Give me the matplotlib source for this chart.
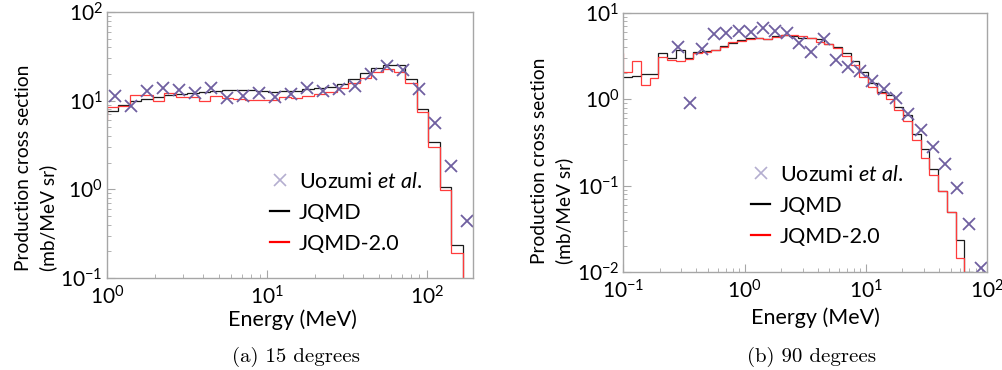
import matplotlib
matplotlib.use("Agg")
import matplotlib.pyplot as plt
from matplotlib.lines import Line2D
from matplotlib.ticker import LogLocator, FuncFormatter, NullFormatter

plt.rcParams['font.family'] = ['Lato', 'DejaVu Sans']
plt.rcParams['mathtext.fontset'] = 'custom'
plt.rcParams['mathtext.rm'] = 'Lato'
plt.rcParams['mathtext.it'] = 'Lato:italic'

# ---------------- data: (a) 15 degrees ----------------
edges_a = [0.95, 1.0, 1.177, 1.388, 1.639, 1.933, 2.281, 2.692, 3.177, 3.748, 4.422,
           5.219, 6.157, 7.266, 8.574, 10.12, 11.94, 14.09, 16.62, 19.61, 23.14,
           27.31, 32.23, 38.03, 44.87, 52.94, 62.47, 73.72, 86.98, 102.7, 121.1,
           142.9, 168.7, 199.1]
jqmd_a = [7.0, 7.7, 8.9, 9.9, 10.4, 11.1, 11.6, 12.0, 12.3, 12.5, 12.9, 13.2, 13.1,
          13.2, 13.0, 12.6, 12.9, 13.0, 13.4, 13.8, 14.4, 15.5, 17.5, 20.5, 23.5,
          25.5, 25.0, 17.4, 8.0, 3.45, 1.06, 0.236, 0.02]
jqmd2_a = [6.0, 8.4, 8.7, 11.6, 11.6, 10.0, 12.1, 10.9, 10.9, 9.8, 11.3, 10.8, 10.5,
           10.3, 10.3, 10.1, 11.0, 10.8, 11.2, 11.9, 12.5, 14.0, 15.7, 18.0, 21.2,
           22.6, 21.2, 15.7, 7.5, 3.0, 0.98, 0.19, 0.02]
uoz_e_a = [1.12, 1.41, 1.78, 2.24, 2.82, 3.55, 4.47, 5.62, 7.08, 8.91, 11.2, 14.1,
           17.8, 22.4, 28.2, 35.5, 44.7, 56.2, 70.8, 89.1, 112.2, 141.3, 177.8]
uoz_v_a = [11.4, 8.6, 13.0, 13.8, 13.2, 12.1, 13.8, 10.6, 11.3, 12.1, 10.9, 11.8,
           13.8, 13.0, 13.4, 14.6, 20.0, 24.6, 22.2, 13.4, 5.65, 1.83, 0.44]

# ---------------- data: (b) 90 degrees ----------------
edges_b = [0.095, 0.1, 0.1181, 0.1394, 0.1646, 0.1943, 0.2294, 0.2708, 0.3197, 0.3774,
           0.4455, 0.5259, 0.6209, 0.7330, 0.8652, 1.0214, 1.206, 1.423, 1.680, 1.984,
           2.342, 2.764, 3.264, 3.853, 4.549, 5.370, 6.339, 7.483, 8.834, 10.43,
           12.31, 14.53, 17.16, 20.26, 23.91, 28.22, 33.32, 39.33, 46.44, 54.82,
           64.71, 76.38, 90.2]
jqmd_b = [1.83, 1.83, 1.85, 1.96, 1.96, 3.45, 3.0, 3.7, 3.0, 3.5, 3.6, 3.7, 4.2, 4.5,
          4.9, 5.1, 5.1, 5.0, 5.4, 5.5, 5.4, 5.2, 5.2, 5.0, 4.4, 4.0, 3.4, 2.75, 2.1,
          1.55, 1.2, 1.12, 0.82, 0.66, 0.40, 0.263, 0.158, 0.087, 0.050, 0.0234,
          0.0101, 0.001]
jqmd2_b = [3.4, 2.09, 2.78, 1.47, 1.75, 3.1, 2.85, 2.8, 2.9, 3.4, 3.5, 3.7, 4.0, 4.6,
           4.8, 5.0, 5.1, 5.0, 5.3, 5.6, 5.6, 5.4, 5.2, 4.6, 4.4, 3.9, 3.2, 2.5, 1.83,
           1.4, 1.17, 1.0, 0.75, 0.565, 0.34, 0.207, 0.133, 0.087, 0.050, 0.0145,
           0.001, 0.001]
uoz_e_b = [0.282, 0.355, 0.447, 0.562, 0.708, 0.891, 1.12, 1.41, 1.78, 2.24, 2.82,
           3.55, 4.47, 5.62, 7.08, 8.91, 11.2, 14.1, 17.8, 22.4, 28.2, 35.5, 44.7,
           56.2, 70.8, 89.1]
uoz_v_b = [4.07, 0.915, 3.8, 5.66, 5.8, 6.2, 5.97, 6.76, 6.2, 5.8, 4.46, 3.57, 4.95,
           2.86, 2.39, 2.15, 1.63, 1.31, 1.03, 0.67, 0.44, 0.283, 0.18, 0.093, 0.036,
           0.0112]

legend_labels = ['Uozumi $\\it{et\\ al.}$', 'JQMD', 'JQMD-2.0']
captions = ['(a) 15 degrees', '(b) 90 degrees']

# ---------------- styling ----------------
BLACK = '#1a1a1a'
RED = '#ff3b3b'
MARK = '#6f5fa0'
MARK_LEG = '#b4aed0'
SPINE = '#a6a6a6'

fig = plt.figure(figsize=(10.03, 3.70), dpi=100)
W, H = 1003.0, 370.0


def axes_px(l, t, r, b):
    return fig.add_axes([l / W, 1 - b / H, (r - l) / W, (b - t) / H])


def fmt(v, pos):
    import math
    e = int(round(math.log10(v)))
    return '$\\mathdefault{10^{%d}}$' % e


def style(ax, xlim, ylim):
    ax.set_xscale('log')
    ax.set_yscale('log')
    ax.set_xlim(*xlim)
    ax.set_ylim(*ylim)
    for s in ax.spines.values():
        s.set_color(SPINE)
        s.set_linewidth(1.0)
    ax.xaxis.set_major_formatter(FuncFormatter(fmt))
    ax.yaxis.set_major_formatter(FuncFormatter(fmt))
    ax.xaxis.set_minor_formatter(NullFormatter())
    ax.yaxis.set_minor_formatter(NullFormatter())
    ax.yaxis.set_minor_locator(LogLocator(base=10, subs=range(2, 10), numticks=20))
    ax.xaxis.set_minor_locator(LogLocator(base=10, subs=range(2, 10), numticks=20))
    ax.tick_params(which='both', direction='in', colors=SPINE, labelcolor='black',
                   labelsize=15, top=False, right=False)
    ax.tick_params(which='major', length=6, width=0.8, pad=3)
    ax.tick_params(which='minor', length=3, width=0.6)
    ax.tick_params(axis='x', which='major', pad=5)


def draw(ax, edges, v1, v2, ue, uv):
    ax.stairs(v1, edges, baseline=None, color=BLACK, lw=0.9)
    ax.stairs(v2, edges, baseline=None, color=RED, lw=0.9)
    ax.plot(ue, uv, ls='none', marker='x', ms=8, mew=1.3, color=MARK)


axA = axes_px(107, 12, 473, 278)
draw(axA, edges_a, jqmd_a, jqmd2_a, uoz_e_a, uoz_v_a)
style(axA, (1, 195), (0.1, 100))

axB = axes_px(623.3, 13, 987.3, 272)
draw(axB, edges_b, jqmd_b, jqmd2_b, uoz_e_b, uoz_v_b)
style(axB, (0.1, 100), (0.01, 10))

handles = [Line2D([], [], ls='none', marker='x', ms=8, mew=1.2, color=MARK_LEG),
           Line2D([], [], color='black', lw=1.6),
           Line2D([], [], color='red', lw=1.6)]

for ax, anchor in ((axA, (270 / W, 1 - 172 / H)), (axB, (751 / W, 1 - 165 / H))):
    ax.legend(handles, legend_labels, loc='upper left', bbox_to_anchor=anchor,
              bbox_transform=fig.transFigure, frameon=False, fontsize=15.5,
              handlelength=0.9, handletextpad=0.45, labelspacing=0.5,
              borderaxespad=0, borderpad=0)

ylab = 'Production cross section\n(mb/MeV sr)'
fig.text(36 / W, 1 - 271 / H, ylab, rotation=90, ha='center', va='bottom',
         multialignment='left', fontsize=13.8, linespacing=1.45)
fig.text(552 / W, 1 - 264 / H, ylab, rotation=90, ha='center', va='bottom',
         multialignment='left', fontsize=13.8, linespacing=1.45)

fig.text(292 / W, 1 - 320 / H, 'Energy (MeV)', ha='center', va='center', fontsize=15.5)
fig.text(815 / W, 1 - 318 / H, 'Energy (MeV)', ha='center', va='center', fontsize=15.5)

fig.text(296 / W, 1 - 357 / H, captions[0], ha='center', va='center', fontsize=15,
         family='cmr10')
fig.text(812 / W, 1 - 357 / H, captions[1], ha='center', va='center', fontsize=15,
         family='cmr10')

fig.savefig('out.png', dpi=100)
